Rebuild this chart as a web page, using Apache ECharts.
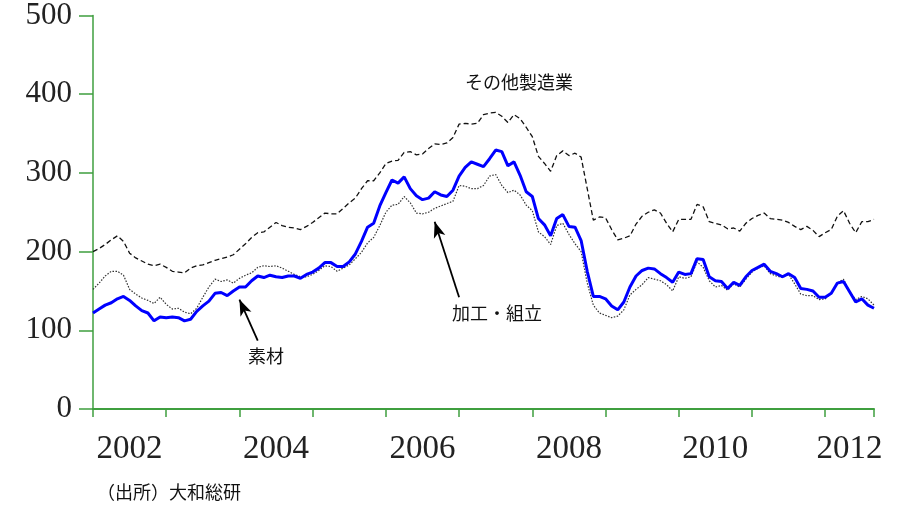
<!DOCTYPE html>
<html><head><meta charset="utf-8">
<script src="https://cdn.jsdelivr.net/npm/echarts@6/dist/echarts.min.js"></script>
<style>html,body{margin:0;padding:0;background:#fff}#c{width:897px;height:507px}</style>
</head><body><div id="c"></div>
<script>
// Monthly categories Jan 2002 - Sep 2012
const months = [];
for (let y = 2002; y <= 2012; y++) for (let m = 1; m <= 12; m++) {
  if (y === 2012 && m > 9) break;
  months.push(y + '-' + (m < 10 ? '0' + m : m));
}
// 素材 (blue)
const sozai = [122,127,132,135,140,143,138,131,125,122,
  112,117,116,117,116,112,114,124,131,137,
  147,148,144,150,155,155,163,169,167,170,
  168,167,169,169,166,171,174,179,186,186,
  181,181,187,197,213,231,236,258,275,291,
  287,295,280,271,266,268,276,272,270,278,
  296,307,314,311,308,318,329,327,309,314,
  297,276,270,242,234,220,242,247,232,231,
  214,175,143,143,140,131,126,136,155,169,
  176,179,178,172,167,161,174,171,172,191,
  190,168,163,162,153,161,157,168,176,180,
  184,175,172,168,172,167,153,152,150,142,
  142,147,160,162,149,136,140,132,128];
// 加工・組立 (dotted)
const kakou = [152,160,169,175,175,170,152,146,141,138,
  134,142,133,127,128,123,121,128,142,155,
  165,162,164,160,166,170,173,180,182,181,
  182,179,175,171,168,168,171,176,182,181,
  175,179,183,191,199,211,218,233,250,259,
  260,270,262,249,248,250,255,258,261,264,
  284,283,280,280,284,296,298,284,275,278,
  272,259,252,225,219,209,233,236,222,210,
  200,160,132,122,119,116,118,126,145,152,
  158,167,165,163,158,150,168,166,168,187,
  180,163,155,157,151,159,155,165,174,179,
  182,172,169,167,171,159,146,144,144,139,
  140,147,160,165,149,139,143,140,132];
// その他製造業 (dashed)
const sonota = [200,204,209,215,220,213,198,192,188,184,
  182,184,180,175,174,173,179,182,183,186,
  189,191,193,196,203,210,218,224,225,231,
  237,233,231,230,228,232,237,243,249,248,
  248,255,262,268,280,290,290,300,312,315,
  316,326,327,323,324,331,337,336,338,345,
  362,363,362,363,374,376,377,372,364,374,
  369,358,346,321,312,302,322,328,322,325,
  320,280,240,244,243,228,215,217,220,235,
  245,250,253,249,236,225,241,241,241,260,
  257,238,236,234,229,230,226,236,242,246,
  249,242,241,240,237,232,228,232,227,219,
  224,228,245,252,236,224,238,238,241];
const yearLabelIdx = [6, 30, 54, 78, 102, 124];
const yTicks = [0, 100, 200, 300, 400, 500];
const labelSozai = '素材', labelKakou = '加工・組立', labelSonota = 'その他製造業';
const source = '（出所）大和総研';

const axisGreen = '#3f9f3f';
const serif = '"Liberation Serif","DejaVu Serif",serif';
const cjk = '"Noto Sans CJK JP","Noto Sans",sans-serif';

const chart = echarts.init(document.getElementById('c'), null, {renderer: 'canvas'});
chart.setOption({
  animation: false,
  backgroundColor: '#fff',
  grid: {left: 93, right: 23, top: 15, bottom: 98, containLabel: false},
  xAxis: {
    type: 'category', data: months, boundaryGap: false,
    axisLine: {lineStyle: {color: axisGreen, width: 2}},
    axisTick: {show: true, length: 8, lineStyle: {color: axisGreen, width: 1.5},
      interval: (i) => i % 12 === 0 || i === months.length - 1},
    axisLabel: {interval: (i) => yearLabelIdx.indexOf(i) >= 0,
      formatter: (v) => v.slice(0, 4), margin: 24,
      fontFamily: serif, fontSize: 33, color: '#222'},
    splitLine: {show: false}
  },
  yAxis: {
    type: 'value', min: 0, max: 500, interval: 100,
    axisLine: {show: true, lineStyle: {color: axisGreen, width: 1.5}},
    axisTick: {show: true, length: 14, lineStyle: {color: axisGreen, width: 1.5}},
    axisLabel: {margin: 21, fontFamily: serif, fontSize: 31, color: '#222'},
    splitLine: {show: false}
  },
  series: [
    {name: labelSonota, type: 'line', data: sonota, symbol: 'none',
     lineStyle: {color: '#111', width: 1.3, type: [5, 3]}, z: 2},
    {name: labelKakou, type: 'line', data: kakou, symbol: 'none',
     lineStyle: {color: '#333', width: 1.2, type: [1.5, 1.5]}, z: 3},
    {name: labelSozai, type: 'line', data: sozai, symbol: 'none',
     lineStyle: {color: '#0000ff', width: 3}, z: 4,
     markLine: {silent: true, symbol: ['none', 'arrow'], symbolSize: [9, 16],
       label: {show: false},
       lineStyle: {color: '#000', width: 1.8, type: 'solid'},
       data: [
         [{coord: [27.4, 87]}, {coord: [23.8, 139]}],
         [{coord: [60.3, 142]}, {coord: [55.7, 238]}]
       ]}}
  ],
  graphic: [
    {type: 'text', left: 465, top: 73, style: {text: labelSonota, font: '18px ' + cjk, fill: '#111'}},
    {type: 'text', left: 452, top: 304, style: {text: labelKakou, font: '18px ' + cjk, fill: '#111'}},
    {type: 'text', left: 248, top: 347, style: {text: labelSozai, font: '18px ' + cjk, fill: '#111'}},
    {type: 'text', left: 97, top: 483, style: {text: source, font: '18px ' + cjk, fill: '#111'}}
  ]
});
</script></body></html>
